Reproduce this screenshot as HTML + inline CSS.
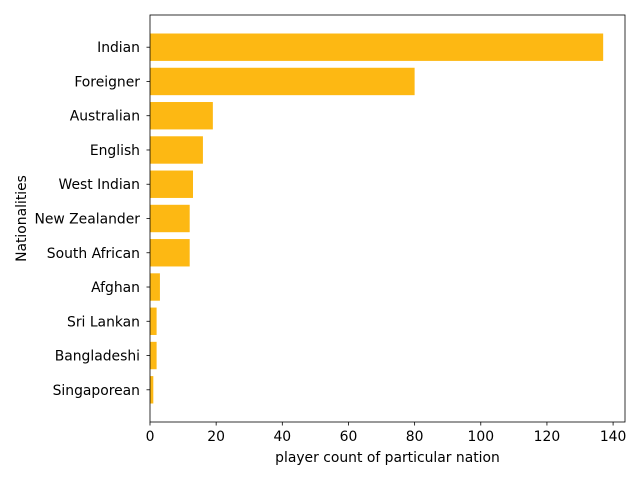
<!DOCTYPE html>
<html><head><meta charset="utf-8"><style>body{margin:0;background:#fff}svg{font-family:"DejaVu Sans","Liberation Sans",sans-serif}</style></head>
<body>
<svg id="chart" width="640" height="480" xmlns="http://www.w3.org/2000/svg"></svg>
<script>
const categories=["Indian","Foreigner","Australian","English","West Indian","New Zealander","South African","Afghan","Sri Lankan","Bangladeshi","Singaporean"];
const playerCounts=[137,80,19,16,13,12,12,3,2,2,1];
const xTicks=[0,20,40,60,80,100,120,140];
const svg=document.getElementById('chart');
const NS="http://www.w3.org/2000/svg";
const L=150,R=625,T=15,B=422,xMax=143.6;
const FS=13.9;
const xs=v=>L+v/xMax*(R-L);
const n=categories.length;
const span=(n-1+0.8)*1.1;
const step=(B-T)/span;
const yc=i=>T+(0.05*(n-1+0.8)+0.4)*step+i*step;
function mk(t,a,txt){const e=document.createElementNS(NS,t);for(const k in a)e.setAttribute(k,a[k]);if(txt!==undefined)e.textContent=txt;svg.appendChild(e);return e;}
categories.forEach((c,i)=>{
 const r=mk('rect',{x:xs(0),y:yc(i)-step*0.4,width:xs(playerCounts[i])-xs(0),height:step*0.8,fill:'#fdb813'});
 
 
 mk('line',{x1:L,x2:L-3.5,y1:yc(i),y2:yc(i),stroke:'#000','stroke-width':0.8});
 const t=mk('text',{x:L-10,y:yc(i)+5,'text-anchor':'end','font-size':FS},c);
 
 
});
xTicks.forEach(v=>{
 mk('line',{x1:xs(v),x2:xs(v),y1:B,y2:B+3.5,stroke:'#000','stroke-width':0.8});
 const t=mk('text',{x:xs(v),y:B+19,'text-anchor':'middle','font-size':FS},v);
 
 
});
const f=mk('rect',{x:L,y:T,width:R-L,height:B-T,fill:'none',stroke:'#000','stroke-width':0.8});


const xt=mk('text',{x:(L+R)/2,y:462,'text-anchor':'middle','font-size':FS},'player count of particular nation');


const yt=mk('text',{x:0,y:0,'text-anchor':'middle','font-size':FS,transform:`translate(26,${(T+B)/2}) rotate(-90)`},'Nationalities');


</script>
</body></html>
